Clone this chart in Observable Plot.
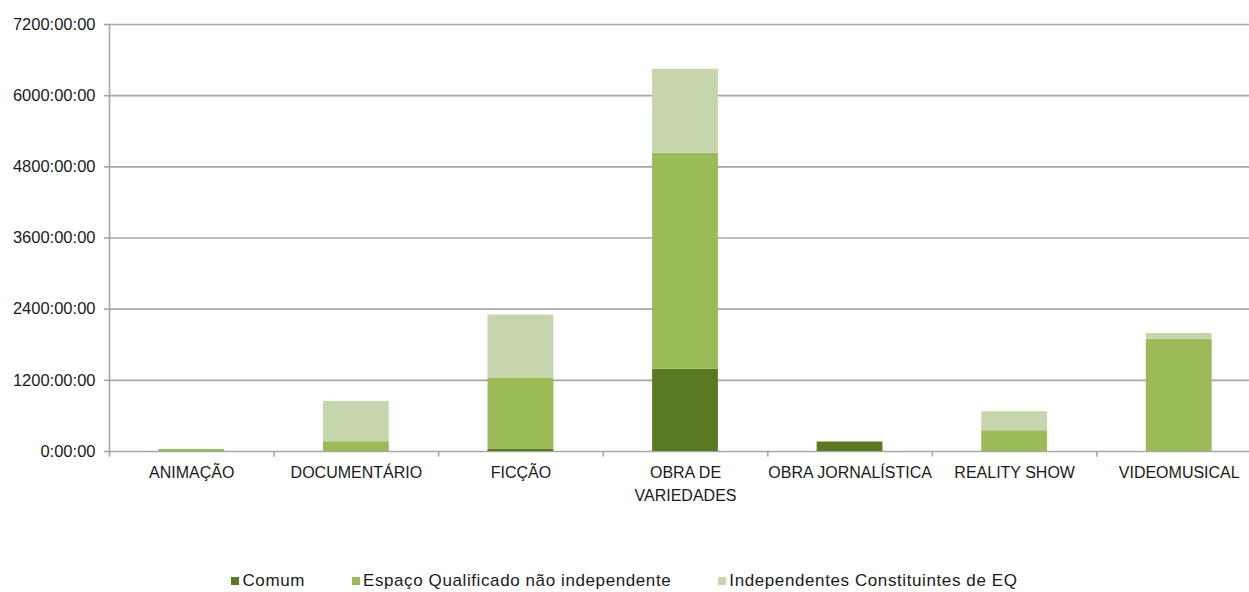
<!DOCTYPE html>
<html>
<head>
<meta charset="utf-8">
<script src="https://cdn.jsdelivr.net/npm/d3@7"></script>
<script src="https://cdn.jsdelivr.net/npm/@observablehq/plot@0.6"></script>
<style>
  html, body { margin: 0; padding: 0; background: #fff; overflow: hidden; }
  body { width: 1249px; font-family: "Liberation Sans", Arial, sans-serif; }
  #chart { width: 1249px; overflow: hidden; }
  #legend { width: 1249px; display: flex; justify-content: center; gap: 47px; font-size: 17px; letter-spacing: 0.6px; color: #1a1a1a; padding-top: 21px; padding-left: 0px; }
  #legend .item { display: flex; align-items: center; }
  #legend .sw { width: 8px; height: 8px; margin-right: 3px; display: inline-block; }
</style>
</head>
<body>
<div id="chart"></div>
<div id="legend"></div>
<script>
const categories = ["ANIMAÇÃO", "DOCUMENTÁRIO", "FICÇÃO", "OBRA DE VARIEDADES", "OBRA JORNALÍSTICA", "REALITY SHOW", "VIDEOMUSICAL"];
const series = ["Comum", "Espaço Qualificado não independente", "Independentes Constituintes de EQ"];
const comum  = [0, 0, 35, 1390, 160, 0, 0];
const espaco = [35, 165, 1205, 3640, 0, 350, 1895];
const indep  = [0, 680, 1060, 1415, 0, 320, 95];
const colors = ["#5a7a22", "#9bbb59", "#c6d6ac"];
const yTicks = [0, 1200, 2400, 3600, 4800, 6000, 7200];

const values = [comum, espaco, indep];
const data = [];
series.forEach((s, i) => categories.forEach((c, j) => data.push({category: c, series: s, value: values[i][j]})));

const width = 1261, height = 550, marginLeft = 109, marginRight = 0;
const step = (width - marginLeft - marginRight) / categories.length;
const axisColor = "#a6a6a6";

const plot = Plot.plot({
  width, height,
  marginLeft, marginRight,
  marginTop: 24, marginBottom: 99,
  style: {fontFamily: "'Liberation Sans', Arial, sans-serif", fontSize: "16px", color: "#1a1a1a", background: "#fff", maxWidth: "none"},
  x: {domain: categories, paddingInner: 0.6, paddingOuter: 0.3, round: false, label: null},
  y: {domain: [0, 7200], label: null},
  color: {domain: series, range: colors},
  marks: [
    Plot.ruleY(yTicks, {stroke: axisColor, strokeWidth: 1.6}),
    Plot.barY(data, {x: "category", y: "value", fill: "series", order: series}),
    Plot.ruleX([0], {x: () => categories[0], dx: -step / 2, y1: 0, y2: 7200, stroke: axisColor, strokeWidth: 1.6}),
    Plot.ruleX(categories, {x: d => d, dx: -step / 2, y1: 0, y2: -95, stroke: axisColor, strokeWidth: 1.6}),
    Plot.axisY({ticks: yTicks, tickFormat: d => `${d}:00:00`, tickSize: 5, tickPadding: 9, stroke: axisColor, strokeWidth: 1.6, fontSize: 16.5, fill: "#1a1a1a"}),
    Plot.axisX({tickSize: 0, tickPadding: 11, fontSize: 16, lineHeight: 1.4, fill: "#1a1a1a",
      tickFormat: d => d === "OBRA DE VARIEDADES" ? "OBRA DE\nVARIEDADES" : d})
  ]
});
document.getElementById("chart").appendChild(plot);

const legend = document.getElementById("legend");
series.forEach((s, i) => {
  const item = document.createElement("div");
  item.className = "item";
  const sw = document.createElement("span");
  sw.className = "sw";
  sw.style.background = colors[i];
  item.appendChild(sw);
  item.appendChild(document.createTextNode(s));
  legend.appendChild(item);
});
</script>
</body>
</html>
